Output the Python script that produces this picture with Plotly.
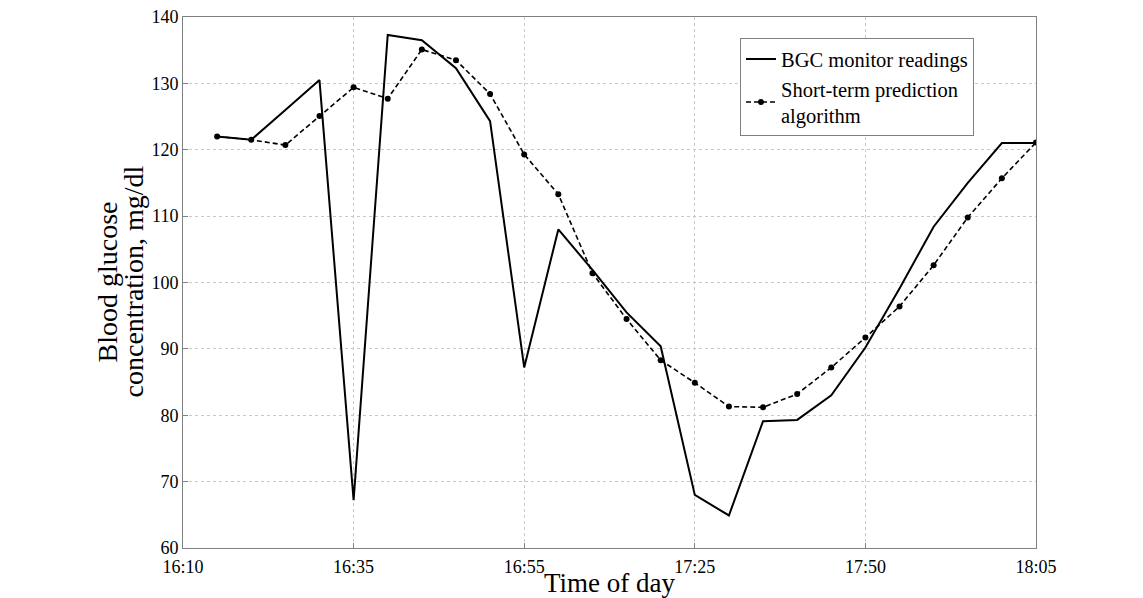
import plotly.graph_objects as go

# Sample index (equally spaced samples); tick labels show clock time
sample_idx = list(range(1, 26))
bgc_readings = [122.0, 121.5, 126.0, 130.5, 67.2, 137.3, 136.5, 132.3, 124.3, 87.2,
                108.0, 101.9, 95.5, 90.4, 68.0, 64.9, 79.1, 79.3, 83.0, 90.2,
                99.1, 108.4, 115.0, 121.0, 121.0]
prediction = [122.0, 121.5, 120.7, 125.1, 129.4, 127.7, 135.1, 133.5, 128.4, 119.3,
              113.3, 101.4, 94.5, 88.3, 84.9, 81.3, 81.2, 83.2, 87.2, 91.7,
              96.4, 102.6, 109.8, 115.7, 121.1]
tick_positions = [0, 5, 10, 15, 20, 25]
tick_labels = ["16:10", "16:35", "16:55", "17:25", "17:50", "18:05"]
y_ticks = [60, 70, 80, 90, 100, 110, 120, 130, 140]
y_title_lines = ["Blood glucose", "concentration, mg/dl"]

FONT = "Liberation Serif, Times New Roman, serif"

fig = go.Figure()
fig.add_trace(go.Scatter(
    x=sample_idx, y=bgc_readings, mode="lines", name="BGC monitor readings",
    line=dict(color="black", width=2)))
fig.add_trace(go.Scatter(
    x=sample_idx, y=prediction, mode="lines+markers",
    name="Short-term prediction<br>algorithm",
    line=dict(color="black", width=1.6, dash="5px,3px"),
    marker=dict(color="black", size=6)))

axis_common = dict(
    showline=True, linecolor="#808080", linewidth=1, mirror=True,
    ticks="inside", ticklen=5, tickcolor="#808080",
    showgrid=True, gridcolor="#c8c8c8", griddash="dot", gridwidth=1,
    zeroline=False, automargin=False, ticklabeloverflow="allow",
    tickfont=dict(family=FONT, size=18, color="black"))

fig.update_xaxes(range=[0, 25], tickvals=tick_positions, ticktext=tick_labels,
                 ticklabelstandoff=2,
                 title=dict(text="Time of day", font=dict(family=FONT, size=27, color="black"),
                            standoff=0),
                 **axis_common)
fig.update_yaxes(range=[60, 140], tickvals=y_ticks, **axis_common)

# Two-line y-axis title, drawn as rotated text lines with tight line spacing
for xpos, line_text in zip([-0.0891, -0.0586], y_title_lines):
    fig.add_annotation(text=line_text, xref="paper", yref="paper", x=xpos, y=0.502,
                       xanchor="center", yanchor="middle", textangle=-90, showarrow=False,
                       font=dict(family=FONT, size=28, color="black"))

fig.update_layout(
    width=1135, height=590,
    margin=dict(l=175, r=107, t=9, b=50),
    paper_bgcolor="white", plot_bgcolor="white",
    font=dict(family=FONT, color="black"),
    legend=dict(x=0.653, y=0.96, xanchor="left", yanchor="top",
                bgcolor="white", bordercolor="#808080", borderwidth=1,
                font=dict(family=FONT, size=20.5, color="black"),
                tracegroupgap=0, itemwidth=30),
    showlegend=True)

fig.write_html("out.html")
